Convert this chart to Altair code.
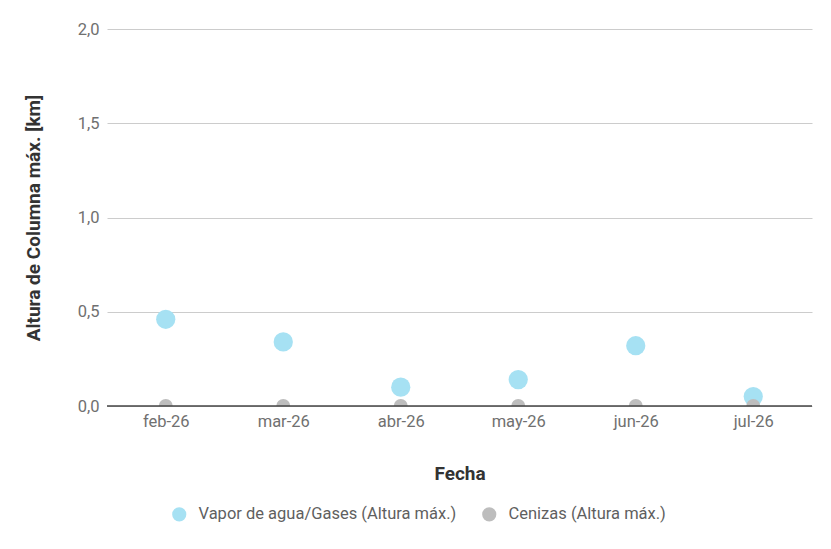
import altair as alt
import pandas as pd

months = ["feb-26", "mar-26", "abr-26", "may-26", "jun-26", "jul-26"]
vapor = [0.46, 0.34, 0.10, 0.14, 0.32, 0.05]
cenizas = [0.0, 0.0, 0.0, 0.0, 0.0, 0.0]
series = ["Vapor de agua/Gases (Altura máx.)", "Cenizas (Altura máx.)"]
colors = ["#a6e1f3", "#bdbdbd"]
y_ticks = [0, 0.5, 1.0, 1.5, 2.0]

df_v = pd.DataFrame({"Fecha": months, "valor": vapor, "serie": series[0]})
df_c = pd.DataFrame({"Fecha": months, "valor": cenizas, "serie": series[1]})

FONT = "Roboto"
LAB = 16.5
TIT = 19

x_enc = alt.X("Fecha:N", sort=months, scale=alt.Scale(paddingInner=0, paddingOuter=0),
              axis=alt.Axis(title="Fecha", labelAngle=0, ticks=False, domain=False, grid=False,
                            labelPadding=7, titlePadding=35, labelFontSize=LAB,
                            labelColor="#707070", titleFontSize=TIT, titleFontWeight="bold",
                            titleColor="#333333", labelFont=FONT, titleFont=FONT))
y_enc = alt.Y("valor:Q", scale=alt.Scale(domain=[0, 2.0], nice=False),
              axis=alt.Axis(title="Altura de Columna máx. [km]", values=y_ticks,
                            labelExpr="replace(format(datum.value, '.1f'), '.', ',')",
                            ticks=False, domain=False, gridColor="#cccccc",
                            labelPadding=8, titlePadding=34, labelFontSize=LAB,
                            labelColor="#707070", titleFontSize=TIT, titleFontWeight="bold",
                            titleColor="#333333", labelFont=FONT, titleFont=FONT))
color_enc = alt.Color("serie:N", scale=alt.Scale(domain=series, range=colors),
                      legend=alt.Legend(title=None, orient="none", direction="horizontal",
                                        legendX=64, legendY=477, symbolType="circle",
                                        symbolSize=200, labelFontSize=LAB, labelColor="#5f5f5f",
                                        labelFont=FONT, columnPadding=24, symbolOpacity=1,
                                        labelOffset=11, labelLimit=400))

vap = alt.Chart(df_v).mark_circle(opacity=1, clip=True, size=370).encode(
    x=x_enc, y=y_enc, color=color_enc)
cen = alt.Chart(df_c).mark_circle(opacity=1, clip=True, size=195).encode(
    x=x_enc, y=y_enc, color=color_enc)

baseline = alt.Chart(pd.DataFrame({"valor": [0]})).mark_rule(color="#444444", strokeWidth=1.5).encode(
    y=y_enc
)

chart = alt.layer(vap, cen, baseline).properties(
    width=705, height=377,
    autosize=alt.AutoSizeParams(type="none"),
    padding={"left": 99, "top": 21, "right": 11, "bottom": 135},
).configure(font=FONT).configure_view(strokeWidth=0).configure_axis(domain=False)

chart.save("out.html", embed_options={"renderer": "svg", "actions": False})
